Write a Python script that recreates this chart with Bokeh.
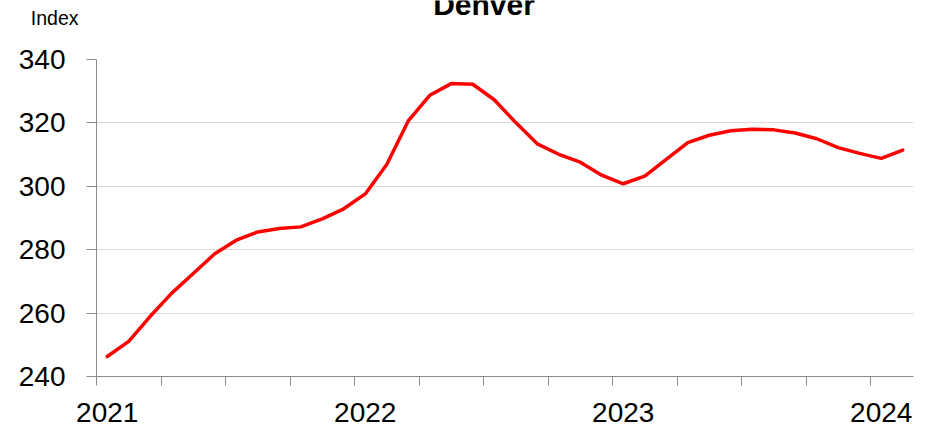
from bokeh.plotting import figure
from bokeh.layouts import column
from bokeh.models import FixedTicker, Range1d, ColumnDataSource
from bokeh.core.properties import value
from bokeh.embed import file_html
from bokeh.resources import INLINE

# ---- data ----
months = [f"{y}-{m:02d}" for y in (2021, 2022, 2023) for m in range(1, 13)] + ["2024-01", "2024-02"]
index_values = [246.3, 251.1, 259.0, 266.3, 272.5, 278.7, 283.0, 285.6, 286.7, 287.2, 289.7, 292.9,
                297.6, 306.9, 320.6, 328.7, 332.4, 332.2, 327.3, 320.1, 313.4, 310.1, 307.6, 303.5,
                300.8, 303.2, 308.5, 313.8, 316.1, 317.5, 318.0, 317.8, 316.8, 315.0, 312.2, 310.4,
                308.8, 311.4]
year_labels = ["2021", "2022", "2023", "2024"]
y_ticks = [240, 260, 280, 300, 320, 340]
title_text = "Denver"
unit_text = "Index"

FONT = "Liberation Sans"
AXIS_GRAY = "#8c8c8c"
W = 931
HEADER_H = 40
MAIN_H = 388
LEFT, RIGHT = 96, 18

# ---- header strip: unit label (as a left-axis label) and the partly cut title ----
header = figure(width=W, height=HEADER_H, output_backend="svg", toolbar_location=None,
                title=None, x_range=Range1d(LEFT, W - RIGHT), y_range=Range1d(HEADER_H, 0),
                x_axis_type=None,
                min_border_left=LEFT, min_border_right=RIGHT,
                min_border_top=0, min_border_bottom=0)
header.outline_line_color = None
header.grid.grid_line_color = None
unit_pos = 17.5
header.yaxis.ticker = FixedTicker(ticks=[unit_pos])
header.yaxis.major_label_overrides = {unit_pos: unit_text}
header.yaxis.axis_line_color = None
header.yaxis.major_tick_line_color = None
header.yaxis.minor_tick_line_color = None
header.yaxis.major_tick_out = 0
header.yaxis.major_tick_in = 0
header.yaxis.major_label_standoff = 18
header.yaxis.major_label_text_font = FONT
header.yaxis.major_label_text_font_size = "19.5px"
header.yaxis.major_label_text_color = "black"
header.text(x=[483.5], y=[4], text=[title_text], text_align="center", text_baseline="alphabetic",
            text_font=value(FONT), text_font_size=value("30px"), text_font_style="bold",
            text_color="black")

# ---- main chart ----
n_slots = len(months)
xs = [i + 0.5 for i in range(n_slots)]  # monthly points at mid-month

p = figure(width=W, height=MAIN_H, output_backend="svg", toolbar_location=None, title=None,
           x_range=Range1d(0, n_slots), y_range=Range1d(y_ticks[0], y_ticks[-1]),
           min_border_left=LEFT, min_border_right=RIGHT, min_border_top=19, min_border_bottom=52)
p.outline_line_color = None

src = ColumnDataSource(dict(x=xs, y=index_values, month=months))
p.line("x", "y", source=src, line_color="#ff0000", line_width=3.5,
       line_join="round", line_cap="round")

# x axis: quarter tick marks, year labels centred on January
quarter_marks = list(range(0, n_slots + 1, 3))
year_pos = [12 * k + 0.5 for k in range(len(year_labels))]
p.xaxis.ticker = FixedTicker(ticks=year_pos, minor_ticks=quarter_marks)
p.xaxis.major_label_overrides = {pos: lab for pos, lab in zip(year_pos, year_labels)}
p.xaxis.major_tick_out = 0
p.xaxis.major_tick_in = 0
p.xaxis.major_tick_line_color = None
p.xaxis.minor_tick_out = 9
p.xaxis.minor_tick_in = 0
p.xaxis.minor_tick_line_color = AXIS_GRAY
p.xaxis.axis_line_color = AXIS_GRAY
p.xaxis.major_label_text_font = FONT
p.xaxis.major_label_text_font_size = "28px"
p.xaxis.major_label_text_color = "black"
p.xaxis.major_label_standoff = 17
p.xgrid.grid_line_color = None

# y axis
p.yaxis.ticker = FixedTicker(ticks=y_ticks)
p.yaxis.major_tick_out = 10
p.yaxis.major_tick_in = 0
p.yaxis.minor_tick_line_color = None
p.yaxis.major_tick_line_color = AXIS_GRAY
p.yaxis.axis_line_color = AXIS_GRAY
p.yaxis.major_label_text_font = FONT
p.yaxis.major_label_text_font_size = "28px"
p.yaxis.major_label_text_color = "black"
p.yaxis.major_label_standoff = 21
p.ygrid.ticker = FixedTicker(ticks=y_ticks)
p.ygrid.grid_line_color = "#d9d9d9"
p.ygrid.grid_line_width = 1

layout = column(header, p, spacing=0)
open("out.html", "w").write(file_html(layout, INLINE))
